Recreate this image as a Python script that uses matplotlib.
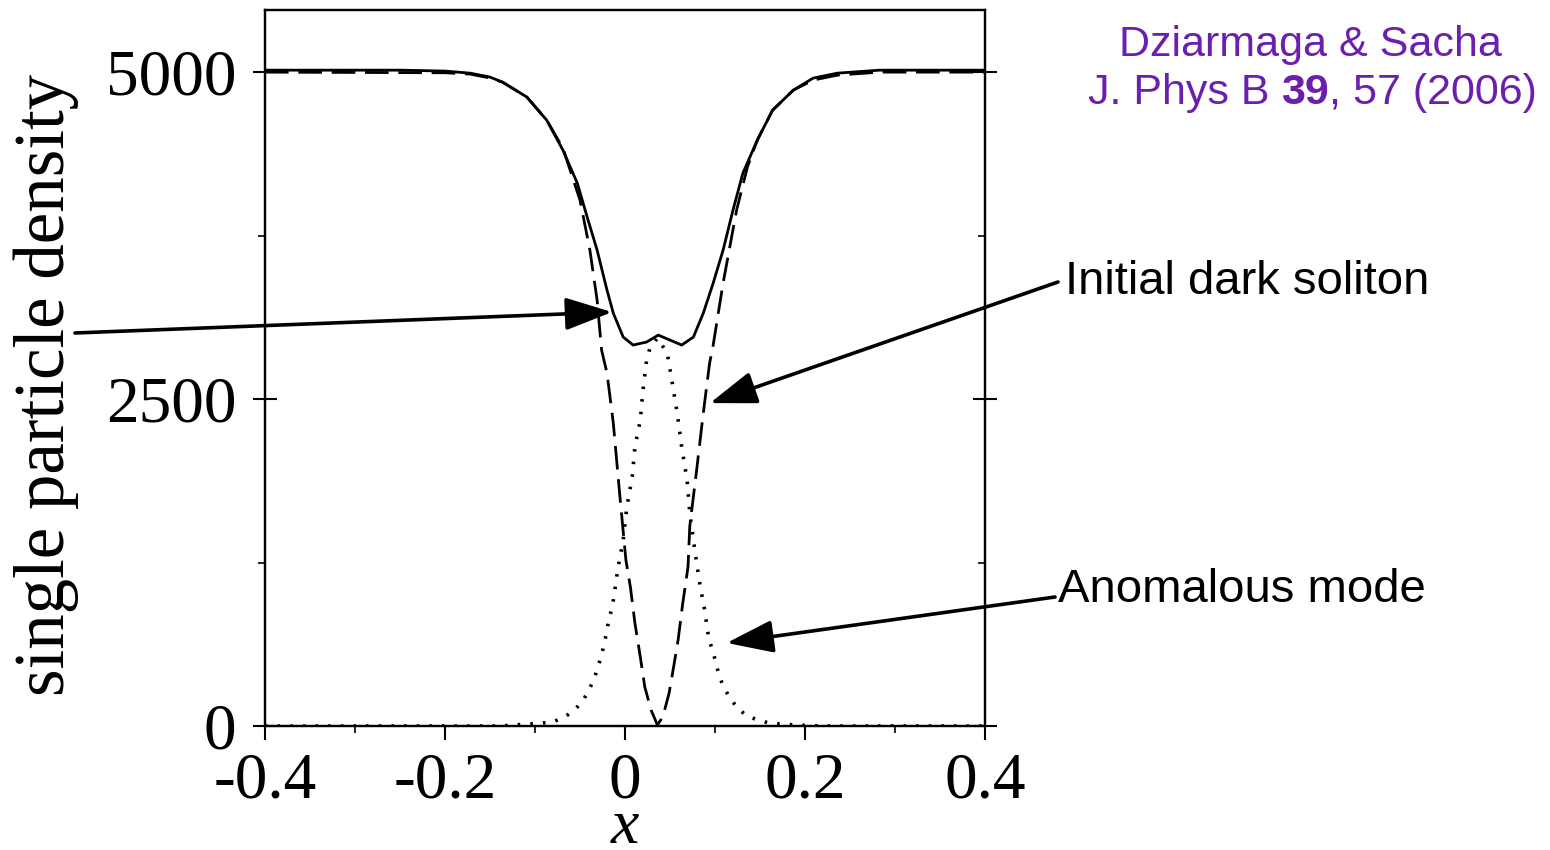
import matplotlib
matplotlib.use("Agg")
import matplotlib.pyplot as plt
from matplotlib.ticker import MultipleLocator

# Values (x position, single particle density)
x_total = [-0.400, -0.250, -0.200, -0.172, -0.150, -0.136, -0.109, -0.087, -0.069,
           -0.053, -0.042, -0.031, -0.020, -0.013, -0.002, 0.009, 0.024, 0.037,
           0.050, 0.063, 0.076, 0.087, 0.098, 0.109, 0.120, 0.131, 0.147, 0.164,
           0.187, 0.209, 0.236, 0.283, 0.400]
n_total = [5015, 5015, 5008, 4992, 4962, 4923, 4809, 4633, 4404,
           4151, 3891, 3639, 3333, 3157, 2974, 2913, 2936, 2989,
           2951, 2913, 2974, 3157, 3387, 3639, 3945, 4228, 4480, 4709,
           4862, 4954, 4992, 5015, 5015]

# initial dark soliton
x_soliton = [-0.400, -0.200, -0.172, -0.150, -0.136, -0.109, -0.087, -0.069, -0.050,
             -0.039, -0.031, -0.026, -0.020, -0.013, -0.006, 0.001, 0.006, 0.011,
             0.017, 0.022, 0.029, 0.036, 0.042, 0.049, 0.054, 0.059, 0.064, 0.070,
             0.072, 0.080, 0.087, 0.094, 0.098, 0.109, 0.124, 0.136, 0.147, 0.164,
             0.187, 0.209, 0.236, 0.283, 0.400]
n_soliton = [5000, 4995, 4985, 4955, 4923, 4809, 4633, 4419, 4021,
             3639, 3257, 2874, 2699, 2316, 1781, 1269, 1063, 787,
             528, 298, 122, 8, 69, 252, 451, 657, 930, 1216,
             1530, 1980, 2393, 2775, 2913, 3387, 3945, 4274, 4480, 4709,
             4862, 4939, 4977, 5000, 5000]

# anomalous mode
x_mode = [-0.400, -0.139, -0.108, -0.092, -0.080, -0.067, -0.056, -0.047, -0.040,
          -0.034, -0.030, -0.026, -0.023, -0.020, -0.018, -0.014, -0.012, -0.010,
          -0.008, -0.002, 0.002, 0.008, 0.011, 0.017, 0.020, 0.024, 0.028, 0.036,
          0.047, 0.052, 0.058, 0.063, 0.069, 0.072, 0.078, 0.082, 0.084, 0.087,
          0.089, 0.091, 0.093, 0.097, 0.101, 0.104, 0.109, 0.116, 0.124, 0.134,
          0.147, 0.160, 0.174, 0.189, 0.217, 0.400]
n_mode = [0, 0, 15, 23, 31, 69, 122, 191, 275,
          367, 451, 543, 635, 726, 818, 910, 1009, 1101,
          1200, 1422, 1674, 1904, 2133, 2339, 2569, 2798, 2897, 2966,
          2851, 2645, 2393, 2133, 1881, 1628, 1323, 1139, 1047, 948,
          864, 765, 673, 581, 489, 398, 306, 222, 145, 84,
          46, 23, 15, 8, 0, 0]

x_ticks = [-0.4, -0.2, 0, 0.2, 0.4]
x_ticklabels = ["-0.4", "-0.2", "0", "0.2", "0.4"]
y_ticks = [0, 2500, 5000]

serif = ["Liberation Serif", "DejaVu Serif"]
sans = ["Liberation Sans", "DejaVu Sans"]
purple = "#6B1FAF"

fig = plt.figure(figsize=(15.5, 8.5), dpi=100)
ax = fig.add_axes([265 / 1550, 1 - 726 / 850, 720 / 1550, 716 / 850])

ax.plot(x_mode, n_mode, color="black", lw=2.6, linestyle=(0, (0.7, 2.8)), zorder=2)
ax.plot(x_soliton, n_soliton, color="black", lw=2.0, linestyle=(0, (8.5, 3.5)), zorder=3)
ax.plot(x_total, n_total, color="black", lw=2.0, zorder=4)

ax.set_xlim(-0.4, 0.4)
ax.set_ylim(0, 5475)
for s in ax.spines.values():
    s.set_linewidth(1.6)

ax.set_xticks(x_ticks)
ax.set_xticklabels(x_ticklabels)
ax.xaxis.set_minor_locator(MultipleLocator(0.1))
ax.set_yticks(y_ticks)
ax.set_yticklabels([str(v) for v in y_ticks])
ax.yaxis.set_minor_locator(MultipleLocator(1250))

ax.tick_params(axis="x", which="major", direction="out", length=10, width=1.5,
               pad=9, labelsize=47)
ax.tick_params(axis="x", which="minor", direction="out", length=5, width=1.2)
ax.tick_params(axis="y", which="major", direction="inout", length=17, width=1.5,
               pad=12, labelsize=47)
ax.tick_params(axis="y", which="minor", direction="out", length=5, width=1.2)
for lab in ax.get_xticklabels() + ax.get_yticklabels():
    lab.set_family(serif)

# right side ticks: major cross the spine, minor point inwards
ax2 = ax.twinx()
ax2.set_ylim(ax.get_ylim())
ax2.set_yticks(y_ticks)
ax2.yaxis.set_minor_locator(MultipleLocator(1250))
ax2.tick_params(axis="y", which="major", direction="inout", length=17, width=1.5,
                labelright=False)
ax2.tick_params(axis="y", which="minor", direction="in", length=5, width=1.2)
for s in ax2.spines.values():
    s.set_linewidth(1.6)

fig.text(46 / 1550, 1 - 385 / 850, "single particle density", rotation=90,
         ha="center", va="center", fontsize=51, family=serif)
fig.text(625 / 1550, 1 - 843 / 850, "x", ha="center", va="baseline",
         fontsize=46, style="italic", family=serif)

arrow = dict(arrowstyle="-|>,head_length=0.4,head_width=0.14", color="black",
             lw=2.6, mutation_scale=72, shrinkA=0, shrinkB=0)
ax.annotate("", xy=(-0.0144, 3165), xycoords="data",
            xytext=(75, 850 - 333), textcoords="figure pixels",
            arrowprops=arrow, annotation_clip=False)
ax.annotate("", xy=(0.0944, 2469), xycoords="data",
            xytext=(1058, 850 - 282), textcoords="figure pixels",
            arrowprops=arrow, annotation_clip=False)
ax.annotate("", xy=(0.113, 635), xycoords="data",
            xytext=(1055, 850 - 597), textcoords="figure pixels",
            arrowprops=arrow, annotation_clip=False)

fig.text(1065 / 1550, 1 - 282 / 850, "Initial dark soliton", ha="left",
         va="center", fontsize=34, family=sans)
fig.text(1058 / 1550, 1 - 590 / 850, "Anomalous mode", ha="left",
         va="center", fontsize=34, family=sans)

fig.text(1310 / 1550, 1 - 45 / 850, "Dziarmaga & Sacha", ha="center",
         va="center", fontsize=31, family=sans, color=purple)
t1 = fig.text(1088 / 1550, 1 - 93 / 850, "J. Phys B ", ha="left", va="center",
              fontsize=31, family=sans, color=purple)
t2 = plt.annotate("39", xy=(1, 0), xycoords=t1, ha="left", va="bottom",
                  fontsize=31, family=sans, color=purple, fontweight="bold")
plt.annotate(", 57 (2006)", xy=(1, 0), xycoords=t2, ha="left", va="bottom",
             fontsize=31, family=sans, color=purple)

fig.savefig("out.png", dpi=100)
